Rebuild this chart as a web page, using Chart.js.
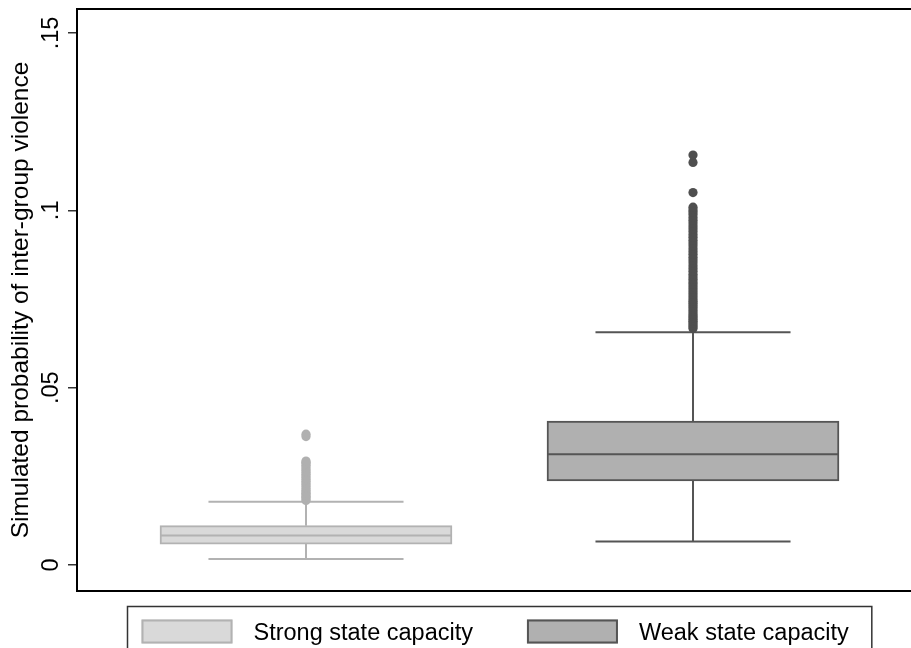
<!DOCTYPE html>
<html>
<head>
<meta charset="utf-8">
<script src="https://cdn.jsdelivr.net/npm/chart.js@4.4.1/dist/chart.umd.min.js"></script>
<style>
  html, body { margin: 0; padding: 0; overflow: hidden; background: #fff; }
  canvas { display: block; }
</style>
</head>
<body>
<canvas id="boxchart" width="999" height="648"></canvas>
<script>
// groups and box statistics
var groups = ['Strong state capacity', 'Weak state capacity'];
var groupX = [1, 2];
var q1 = [0.0059, 0.0237];
var median = [0.0083, 0.0312];
var q3 = [0.0111, 0.0406];
var whiskLo = [0.0017, 0.0066];
var whiskHi = [0.0178, 0.0656];

// outside values
var outStrong = [0.0182, 0.0186, 0.0190, 0.0194, 0.0198, 0.0202, 0.0206, 0.0211, 0.0216, 0.0221,
  0.0226, 0.0231, 0.0236, 0.0241, 0.0246, 0.0251, 0.0256, 0.0261, 0.0266, 0.0271, 0.0276,
  0.0281, 0.0286, 0.0290, 0.0293, 0.0362, 0.0369];
var outWeak = [0.0667, 0.0672, 0.0677, 0.0682, 0.0687, 0.0692, 0.0697, 0.0702, 0.0708, 0.0714,
  0.0720, 0.0726, 0.0732, 0.0738, 0.0744, 0.0750, 0.0757, 0.0764, 0.0771, 0.0778, 0.0785,
  0.0792, 0.0799, 0.0806, 0.0813, 0.0820, 0.0828, 0.0836, 0.0844, 0.0852, 0.0860, 0.0868,
  0.0876, 0.0884, 0.0892, 0.0900, 0.0908, 0.0916, 0.0924, 0.0932, 0.0940, 0.0948, 0.0956,
  0.0964, 0.0972, 0.0980, 0.0988, 0.0995, 0.1002, 0.1009, 0.1050, 0.1135, 0.1156];
var outliers = [outStrong, outWeak];

var yTicks = [0, 0.05, 0.1, 0.15];

var fillCol = ['#d9d9d9', '#b0b0b0'];
var lineCol = ['#b2b2b2', '#555555'];
var dotCol = ['#b0b0b0', '#4f4f4f'];
var FONT = '"Liberation Sans", Arial, Helvetica, sans-serif';
var BOX_HALF = 0.377;
var CAP_HALF = 0.252;

var datasets = [];

groups.forEach(function (g, i) {
  var c = groupX[i];
  datasets.push({
    type: 'scatter',
    order: 0,
    data: outliers[i].map(function (v) { return { x: c, y: v }; }),
    pointRadius: 4.6,
    pointHoverRadius: 4.6,
    pointBackgroundColor: dotCol[i],
    pointBorderWidth: 0
  });
  datasets.push({
    type: 'line',
    order: 1,
    data: [{ x: c - BOX_HALF, y: median[i] }, { x: c + BOX_HALF, y: median[i] }],
    borderColor: lineCol[i],
    borderWidth: 2,
    pointRadius: 0,
    fill: false
  });
  datasets.push({
    type: 'line',
    order: 2,
    data: [
      { x: c, y: q3[i] }, { x: c, y: whiskHi[i] }, { x: c, y: null },
      { x: c - CAP_HALF, y: whiskHi[i] }, { x: c + CAP_HALF, y: whiskHi[i] }, { x: c, y: null },
      { x: c, y: q1[i] }, { x: c, y: whiskLo[i] }, { x: c, y: null },
      { x: c - CAP_HALF, y: whiskLo[i] }, { x: c + CAP_HALF, y: whiskLo[i] }
    ],
    borderColor: lineCol[i],
    borderWidth: 2,
    pointRadius: 0,
    spanGaps: false,
    fill: false
  });
  datasets.push({
    type: 'bar',
    order: 3,
    label: g,
    grouped: false,
    data: [{ x: c, y: [q1[i], q3[i]] }],
    backgroundColor: fillCol[i],
    borderColor: lineCol[i],
    borderWidth: 2,
    borderSkipped: false,
    barThickness: 292
  });
});

// frame, y tick labels and legend
var decor = {
  id: 'decor',
  afterDraw: function (chart) {
    var ctx = chart.ctx;
    var a = chart.chartArea;
    var ys = chart.scales.y;
    ctx.save();

    ctx.strokeStyle = '#000';
    ctx.lineWidth = 2;
    ctx.strokeRect(a.left, a.top, a.right - a.left, a.bottom - a.top);

    ctx.fillStyle = '#000';
    ctx.font = '23.5px ' + FONT;
    ctx.textAlign = 'center';
    ctx.textBaseline = 'alphabetic';
    yTicks.forEach(function (v) {
      var lab = v === 0 ? '0' : String(v).replace(/^0/, '');
      ctx.save();
      ctx.translate(58, ys.getPixelForValue(v));
      ctx.rotate(-Math.PI / 2);
      ctx.fillText(lab, 0, 0);
      ctx.restore();
    });

    // legend
    var pad = 14, sw = 91, sh = 24, gap = 21, spacing = 54, padR = 23;
    var w0 = ctx.measureText(groups[0]).width;
    var w1 = ctx.measureText(groups[1]).width;
    var total = pad + sw + gap + w0 + spacing + sw + gap + w1 + padR;
    var cx = (a.left + a.right) / 2;
    var left = Math.round(cx - total / 2) + 0.5;
    var top = 606.5;
    ctx.strokeStyle = '#333';
    ctx.lineWidth = 1.5;
    ctx.strokeRect(left, top, total, 60);

    var x = left + pad;
    ctx.textAlign = 'left';
    [w0, w1].forEach(function (tw, i) {
      ctx.fillStyle = fillCol[i];
      ctx.fillRect(x, top + 13, sw, sh);
      ctx.strokeStyle = lineCol[i];
      ctx.lineWidth = 2;
      ctx.strokeRect(x + 1, top + 14, sw - 2, sh - 2);
      ctx.fillStyle = '#000';
      ctx.fillText(groups[i], x + sw + gap, top + 33);
      x += sw + gap + tw + spacing;
    });
    ctx.restore();
  }
};

new Chart(document.getElementById('boxchart'), {
  type: 'bar',
  data: { datasets: datasets },
  options: {
    responsive: false,
    devicePixelRatio: 1,
    animation: false,
    events: [],
    layout: { padding: { top: 9, bottom: 57, right: 77, left: 0 } },
    plugins: {
      legend: { display: false },
      tooltip: { enabled: false }
    },
    scales: {
      x: {
        type: 'linear',
        offset: false,
        min: 0.4083,
        max: 2.5917,
        display: false
      },
      y: {
        min: -0.00733,
        max: 0.15677,
        afterBuildTicks: function (s) {
          s.ticks = yTicks.map(function (v) { return { value: v }; });
        },
        afterFit: function (s) { s.width = 77; },
        ticks: { display: false },
        border: { display: false },
        grid: {
          drawOnChartArea: false,
          drawTicks: true,
          tickLength: 9,
          color: '#333',
          lineWidth: 1.5
        },
        title: {
          display: true,
          text: 'Simulated probability of inter-group violence',
          color: '#000',
          font: { family: FONT, size: 24.5 },
          padding: { top: 7, bottom: 0 }
        }
      }
    }
  },
  plugins: [decor]
});
</script>
</body>
</html>
